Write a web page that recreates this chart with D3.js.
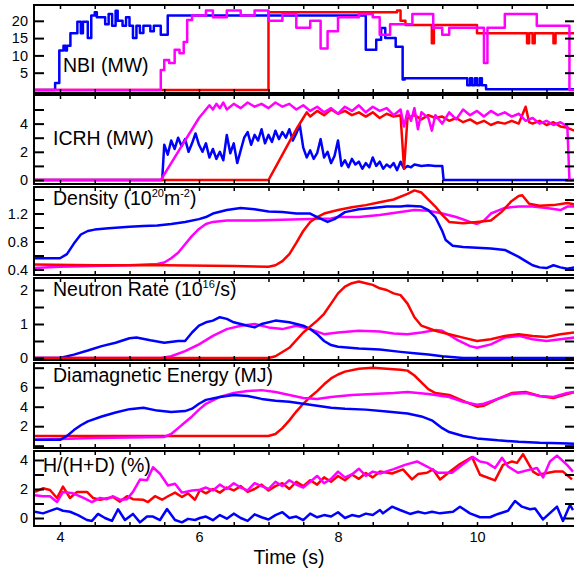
<!DOCTYPE html>
<html>
<head>
<meta charset="utf-8">
<script src="https://cdn.jsdelivr.net/npm/d3@7"></script>
<style>
  body { margin: 0; background: #fff; }
  svg { display: block; }
  text { font-family: "Liberation Sans", Arial, sans-serif; fill: #000; }
</style>
</head>
<body>
<div id="chart"></div>
<script>
// ---- data: [time (s), value] pairs ----
var nbiBlue = [[3.6,0],[3.93,2],[3.99,11.4],[4.05,12.8],[4.08,11.4],[4.1,12.8],[4.15,16.4],[4.25,19.7],[4.3,16.4],[4.33,19.7],
    [4.4,15],[4.45,21.5],[4.5,22.5],[4.53,21],[4.65,19],[4.7,22],[4.75,18.6],[4.8,22.9],[4.83,20],[4.9,18.6],[4.95,21],
    [5.0,18.6],[5.05,15],[5.1,18.6],[5.15,16.5],[5.2,18.6],[5.3,17],[5.35,18.6],[5.45,16],[5.55,21.5],[8.4,11.6],
    [8.55,14.5],[8.62,17.9],[8.68,15],[8.83,12.5],[8.93,3],[8.96,3.4],[9.86,1.4],[9.9,3.4],[9.93,1.4],[9.97,3.4],
    [10.0,1.4],[10.04,3.4],[10.07,1.4],[10.13,0.2],[11.4,0.2]];
var nbiRed = [[3.6,0],[7.0,22.5],[8.85,23],[8.9,20],[8.97,18.8],[9.35,13.5],[9.38,18.8],[10.0,16.4],[10.72,13.5],
    [10.75,16.4],[10.8,13.5],[10.83,16.4],[11.1,13.5],[11.13,16.4],[11.4,16.4]];
var nbiMag = [[3.6,0],[5.45,5.8],[5.5,8.7],[5.57,7.8],[5.65,11.6],[5.72,10.6],[5.78,13.9],[5.83,20.2],[5.9,21.5],
    [6.1,23],[6.2,21],[6.4,23],[6.6,21.5],[6.8,23],[7.0,20],[7.2,22],[7.4,18],[7.6,20],[7.75,12],[7.85,17],
    [8.0,21],[8.3,22],[8.5,21],[8.6,16],[8.75,19],[9.07,22],[9.37,18],[9.5,16],[9.6,18],[10.1,7.8],[10.15,18],
    [10.4,22],[10.86,18.6],[11.33,0],[11.4,0]];

var icrhBlue = [[3.6,0],[5.47,0],[5.5,2.5],[5.55,1.8],[5.6,2.8],[5.65,2.2],[5.7,3.0],[5.75,2.4],[5.8,2.9],[5.85,2.0],
    [5.9,2.6],[5.95,3.3],[6.0,2.5],[6.05,2.0],[6.1,2.6],[6.15,1.6],[6.2,2.2],[6.25,1.5],[6.3,2.0],[6.35,1.4],[6.4,3.2],
    [6.45,1.9],[6.5,2.6],[6.55,1.2],[6.6,2.1],[6.65,3.0],[6.7,3.4],[6.75,2.5],[6.8,3.2],[6.85,2.8],[6.9,3.6],[6.95,2.6],
    [7.0,3.2],[7.05,2.7],[7.1,3.5],[7.15,2.9],[7.2,3.4],[7.25,3.0],[7.3,3.6],[7.35,2.8],[7.4,3.3],[7.45,3.9],[7.5,2.3],
    [7.55,1.6],[7.6,2.1],[7.65,1.5],[7.7,1.9],[7.75,2.9],[7.8,1.6],[7.85,2.0],[7.9,1.2],[7.95,1.7],[8.0,2.8],[8.05,1.0],
    [8.1,1.4],[8.15,0.9],[8.2,1.5],[8.25,1.1],[8.3,1.3],[8.35,0.8],[8.4,1.2],[8.45,0.9],[8.5,1.6],[8.55,1.0],[8.6,1.3],
    [8.65,0.8],[8.7,1.1],[8.75,0.9],[8.8,1.2],[8.85,0.7],[8.9,1.3],[8.95,0.8],[9.0,1.0],[9.05,0.9],[9.1,1.1],[9.2,1.0],
    [9.3,1.05],[9.4,1.0],[9.5,1.0],[9.52,0],[11.4,0]];
var icrhMag = [[3.6,0],[5.45,0],[5.6,1.2],[5.75,2.4],[5.9,3.6],[6.0,4.4],[6.1,5.0],[6.15,5.3],[6.2,5.0],[6.25,5.4],
    [6.3,5.1],[6.35,5.5],[6.4,5.0],[6.5,5.4],[6.6,5.1],[6.7,5.5],[6.8,5.2],[6.9,5.4],[7.0,5.1],[7.1,5.5],[7.2,5.2],
    [7.3,5.4],[7.4,5.0],[7.5,5.3],[7.6,4.9],[7.7,5.2],[7.8,4.8],[7.9,5.1],[8.0,4.7],[8.1,5.2],[8.2,4.9],[8.3,5.3],
    [8.4,4.8],[8.5,5.2],[8.6,4.9],[8.7,5.1],[8.8,4.6],[8.9,5.0],[8.95,3.8],[9.0,4.9],[9.05,4.2],[9.1,5.1],[9.15,3.6],
    [9.2,4.8],[9.3,4.4],[9.35,3.5],[9.4,4.6],[9.5,4.0],[9.6,4.8],[9.7,4.3],[9.8,5.0],[9.9,4.6],[10.0,4.9],[10.1,4.5],
    [10.2,4.9],[10.3,4.6],[10.4,4.8],[10.5,4.5],[10.6,4.7],[10.7,4.2],[10.8,4.4],[10.9,4.0],[11.0,4.2],[11.1,3.9],
    [11.2,4.1],[11.3,3.8],[11.33,0],[11.4,0]];
var icrhRed = [[3.6,0],[7.0,0],[7.1,0.9],[7.2,1.8],[7.3,2.7],[7.4,3.6],[7.5,4.4],[7.55,4.8],[7.6,4.5],[7.7,4.9],
    [7.8,4.6],[7.9,5.0],[8.0,4.7],[8.1,4.9],[8.2,4.6],[8.3,4.8],[8.4,4.5],[8.5,4.8],[8.6,4.4],[8.7,4.7],[8.8,4.5],
    [8.9,4.6],[8.95,0.8],[9.0,4.4],[9.1,4.6],[9.2,4.3],[9.3,4.6],[9.4,4.4],[9.5,4.5],[9.6,4.2],[9.7,4.4],[9.8,4.1],
    [9.9,4.3],[10.0,4.0],[10.1,4.2],[10.2,3.9],[10.3,4.1],[10.4,4.0],[10.5,4.2],[10.6,4.0],[10.7,5.2],[10.75,4.1],
    [10.8,4.0],[10.9,4.2],[11.0,3.9],[11.1,4.1],[11.2,3.8],[11.3,3.7],[11.4,3.5]];

var densBlue = [[3.6,0.56],[3.8,0.56],[4.0,0.56],[4.1,0.62],[4.2,0.77],[4.3,0.9],[4.4,0.95],[4.5,0.97],[4.7,0.99],
    [5.0,1.01],[5.2,1.02],[5.4,1.03],[5.6,1.05],[5.8,1.08],[6.0,1.12],[6.1,1.15],[6.2,1.2],[6.4,1.25],[6.6,1.28],
    [6.8,1.26],[7.0,1.23],[7.2,1.22],[7.4,1.2],[7.6,1.2],[7.7,1.15],[7.85,1.08],[7.95,1.12],[8.1,1.22],[8.3,1.26],
    [8.5,1.28],[8.7,1.3],[8.9,1.3],[9.0,1.31],[9.2,1.3],[9.3,1.25],[9.4,1.15],[9.5,0.95],[9.55,0.82],[9.65,0.74],
    [9.8,0.72],[10.0,0.71],[10.2,0.7],[10.4,0.68],[10.5,0.63],[10.6,0.58],[10.7,0.52],[10.8,0.46],[10.9,0.43],
    [11.0,0.42],[11.1,0.46],[11.2,0.43],[11.3,0.41],[11.4,0.43]];
var densRed = [[3.6,0.47],[4.5,0.46],[5.5,0.46],[6.5,0.45],[7.0,0.44],[7.1,0.46],[7.2,0.52],[7.3,0.62],[7.4,0.78],
    [7.5,0.95],[7.6,1.08],[7.7,1.15],[7.8,1.2],[8.0,1.25],[8.2,1.29],[8.4,1.32],[8.6,1.36],[8.8,1.4],[9.0,1.48],
    [9.1,1.53],[9.2,1.5],[9.3,1.4],[9.4,1.3],[9.5,1.18],[9.6,1.08],[9.8,1.06],[10.0,1.08],[10.2,1.1],[10.35,1.22],
    [10.5,1.38],[10.6,1.45],[10.65,1.46],[10.75,1.34],[10.9,1.31],[11.1,1.32],[11.3,1.35],[11.4,1.33]];
var densMag = [[3.6,0.42],[4.0,0.44],[4.5,0.45],[5.0,0.46],[5.4,0.48],[5.5,0.5],[5.6,0.56],[5.7,0.64],[5.8,0.76],
    [5.9,0.88],[6.0,0.98],[6.1,1.05],[6.2,1.08],[6.4,1.1],[6.8,1.1],[7.2,1.11],[7.6,1.12],[7.9,1.13],[8.0,1.15],
    [8.3,1.15],[8.6,1.18],[8.9,1.22],[9.1,1.25],[9.3,1.24],[9.5,1.2],[9.7,1.15],[9.9,1.08],[10.0,1.05],[10.1,1.1],
    [10.2,1.2],[10.4,1.28],[10.6,1.3],[10.8,1.3],[11.0,1.28],[11.2,1.25],[11.3,1.3],[11.4,1.3]];

var neutBlue = [[3.6,0],[4.0,0],[4.2,0.1],[4.4,0.22],[4.6,0.35],[4.8,0.45],[5.0,0.58],[5.1,0.6],[5.3,0.52],[5.5,0.45],
    [5.7,0.5],[5.8,0.5],[5.9,0.75],[6.0,0.95],[6.1,1.05],[6.2,1.1],[6.3,1.2],[6.4,1.15],[6.5,1.05],[6.6,1.0],
    [6.7,0.95],[6.8,0.9],[6.9,1.0],[7.1,1.1],[7.3,1.05],[7.5,0.95],[7.6,0.85],[7.7,0.7],[7.8,0.5],[7.9,0.38],
    [8.0,0.33],[8.3,0.28],[8.6,0.25],[8.9,0.18],[9.1,0.14],[9.3,0.1],[9.5,0.05],[9.8,0],[11.4,0]];
var neutMag = [[3.6,0],[5.45,0],[5.6,0.05],[5.8,0.2],[6.0,0.4],[6.2,0.65],[6.4,0.85],[6.6,0.95],[6.8,1.0],[7.0,0.9],
    [7.2,0.85],[7.4,0.95],[7.6,0.85],[7.8,0.7],[8.0,0.75],[8.3,0.8],[8.6,0.78],[8.8,0.72],[9.0,0.7],[9.2,0.75],
    [9.4,0.82],[9.5,0.8],[9.7,0.55],[9.9,0.35],[10.0,0.3],[10.2,0.4],[10.4,0.6],[10.6,0.65],[10.8,0.55],[11.0,0.5],
    [11.2,0.55],[11.4,0.6]];
var neutRed = [[3.6,0],[7.0,0],[7.1,0.05],[7.3,0.3],[7.5,0.75],[7.7,1.1],[7.8,1.3],[7.9,1.6],[8.0,1.9],[8.1,2.1],
    [8.2,2.2],[8.3,2.25],[8.4,2.2],[8.5,2.15],[8.6,2.05],[8.7,2.0],[8.8,1.9],[8.9,1.85],[9.0,1.6],[9.1,1.2],[9.2,0.95],
    [9.4,0.8],[9.6,0.7],[9.8,0.6],[10.0,0.5],[10.2,0.55],[10.4,0.65],[10.6,0.7],[10.8,0.65],[11.0,0.62],[11.2,0.7],
    [11.4,0.75]];

var diaBlue = [[3.6,0.6],[4.0,0.6],[4.1,1.0],[4.2,1.6],[4.3,2.1],[4.4,2.5],[4.6,3.0],[4.8,3.4],[5.0,3.75],[5.2,3.9],
    [5.4,3.6],[5.6,3.45],[5.8,3.55],[5.9,3.8],[6.0,4.3],[6.1,4.7],[6.3,5.0],[6.5,5.2],[6.7,5.1],[6.9,4.8],[7.1,4.6],
    [7.3,4.5],[7.5,4.3],[7.7,4.1],[7.9,3.9],[8.1,3.8],[8.4,3.7],[8.7,3.5],[9.0,3.3],[9.2,3.0],[9.35,2.6],[9.5,1.8],
    [9.6,1.4],[9.8,1.0],[10.0,0.75],[10.3,0.55],[10.6,0.4],[10.9,0.3],[11.2,0.25],[11.4,0.2]];
var diaRed = [[3.6,1.0],[5.0,1.0],[6.0,1.0],[7.0,1.0],[7.1,1.2],[7.2,1.8],[7.3,2.6],[7.4,3.5],[7.5,4.3],[7.6,5.0],
    [7.7,5.6],[7.8,6.3],[7.9,6.9],[8.0,7.3],[8.1,7.6],[8.3,7.9],[8.5,8.0],[8.7,7.9],[8.9,7.8],[9.0,7.7],[9.1,7.2],
    [9.2,6.5],[9.3,5.8],[9.4,5.4],[9.6,5.2],[9.8,4.6],[10.0,4.0],[10.1,4.1],[10.3,4.8],[10.5,5.4],[10.7,5.5],
    [10.9,5.1],[11.1,4.9],[11.3,5.3],[11.4,5.5]];
var diaMag = [[3.6,0.6],[4.5,0.8],[5.5,0.9],[5.6,1.2],[5.7,1.8],[5.8,2.4],[5.9,3.0],[6.0,3.7],[6.1,4.3],[6.3,5.0],
    [6.5,5.4],[6.7,5.6],[6.9,5.7],[7.1,5.5],[7.3,5.2],[7.5,4.9],[7.7,4.8],[7.9,5.0],[8.2,5.2],[8.5,5.3],[8.8,5.4],
    [9.0,5.5],[9.3,5.3],[9.6,5.0],[9.8,4.5],[10.0,4.2],[10.1,4.3],[10.3,4.8],[10.5,5.3],[10.7,5.4],[10.9,5.1],
    [11.1,5.0],[11.3,5.4],[11.4,5.5]];

var hdRed = [[3.64,1.8],[3.755,2.05],[3.856,1.93],[3.957,1.38],[4.043,2.16],[4.144,1.38],[4.245,1.8],[4.388,1.8],
    [4.475,1.38],[4.576,1.26],[4.763,1.45],[4.863,1.13],[4.964,1.5],[5.05,1.3],[5.194,1.26],[5.266,1.1],[5.367,1.5],
    [5.468,1.26],[5.554,1.5],[5.655,1.75],[5.755,1.45],[5.842,1.7],[5.942,1.26],[6.014,1.93],[6.1,1.7],[6.2,2.0],
    [6.3,1.75],[6.4,2.1],[6.5,1.9],[6.6,2.2],[6.7,1.8],[6.8,2.0],[6.9,2.3],[7.0,1.9],[7.1,2.2],[7.2,2.4],[7.3,2.0],
    [7.4,2.5],[7.5,2.2],[7.6,2.6],[7.7,2.3],[7.8,2.8],[7.9,2.5],[8.0,2.9],[8.1,2.6],[8.2,3.0],[8.3,2.7],[8.4,3.1],
    [8.5,2.8],[8.604,3.2],[8.777,3.07],[8.935,3.35],[9.065,2.66],[9.151,3.03],[9.281,3.12],[9.367,3.35],[9.468,2.66],
    [9.612,3.2],[9.755,3.72],[9.928,4.2],[10.043,2.98],[10.259,2.59],[10.374,3.66],[10.504,3.9],[10.576,3.8],
    [10.662,4.4],[10.806,3.2],[10.878,2.98],[11.007,3.1],[11.122,3.2],[11.237,3.2],[11.367,2.66]];
var hdMag = [[3.64,1.57],[3.755,1.5],[3.856,1.5],[3.957,1.1],[4.043,1.8],[4.187,1.7],[4.331,1.4],[4.46,1.1],
    [4.576,1.38],[4.676,1.3],[4.763,1.5],[4.863,1.26],[4.964,1.3],[5.05,1.8],[5.151,2.65],[5.252,2.6],[5.338,3.5],
    [5.439,3.05],[5.554,2.24],[5.655,2.36],[5.755,1.75],[5.899,1.9],[6.014,1.95],[6.1,2.1],[6.2,1.9],[6.3,2.3],
    [6.4,2.0],[6.5,2.4],[6.6,2.1],[6.7,1.9],[6.8,2.4],[6.9,2.2],[7.0,2.0],[7.1,2.5],[7.2,2.2],[7.3,2.6],[7.4,2.3],
    [7.5,2.1],[7.6,2.5],[7.7,2.9],[7.8,2.4],[7.9,2.7],[8.0,3.2],[8.1,2.8],[8.2,3.0],[8.3,3.4],[8.4,2.9],[8.5,3.2],
    [8.604,3.07],[8.791,3.35],[8.964,3.66],[9.137,3.9],[9.281,3.55],[9.439,3.12],[9.64,3.12],[9.784,3.66],[9.942,4.2],
    [10.043,3.9],[10.144,3.8],[10.259,3.45],[10.36,4.15],[10.446,3.55],[10.59,3.12],[10.734,3.3],[10.863,3.45],
    [10.95,2.8],[11.05,3.9],[11.151,4.3],[11.295,3.66],[11.381,3.2]];
var hdBlue = [[3.64,0.43],[3.755,0.32],[3.957,0.66],[4.043,0.5],[4.144,0.43],[4.259,0.2],[4.388,-0.14],[4.46,-0.2],
    [4.547,0.28],[4.647,0],[4.748,-0.2],[4.835,0.6],[4.935,-0.14],[5.05,0.28],[5.151,-0.3],[5.252,0.1],[5.338,0.1],
    [5.439,-0.14],[5.54,0.62],[5.655,-0.14],[5.755,-0.3],[5.842,-0.06],[5.942,-0.14],[6.014,0],[6.1,0.1],[6.2,-0.15],
    [6.3,0.2],[6.4,-0.05],[6.5,0.3],[6.6,0.0],[6.7,-0.2],[6.8,0.25],[6.9,0.05],[7.0,-0.1],[7.1,0.2],[7.2,0.4],
    [7.3,0.0],[7.4,0.1],[7.5,-0.15],[7.6,0.3],[7.7,0.05],[7.8,0.2],[7.9,0.1],[8.0,0.4],[8.1,0.0],[8.2,0.2],[8.3,0.1],
    [8.4,0.3],[8.5,0.2],[8.604,0.55],[8.647,0.32],[8.777,0.78],[8.892,0.55],[9.036,0.28],[9.151,0.43],[9.252,0.32],
    [9.353,0.43],[9.468,0.32],[9.655,0.43],[9.755,0.78],[9.899,0.32],[10.043,0.05],[10.187,0.05],[10.302,0.28],
    [10.446,0.5],[10.547,1.17],[10.647,0.78],[10.763,0.6],[10.835,0.66],[10.95,-0.1],[11.151,0.78],[11.237,-0.2],
    [11.338,0.9],[11.381,0.55]];

var timeTicks = [4, 6, 8, 10];

// ---- layout ----
var width = 574, height = 575;
var left = 34, right = 575;
var blue = "#0000ff", red = "#ff0000", magenta = "#ff00ff";

var panels = [
    { top: 5, bottom: 93, domain: [-0.87, 24.57], ticks: [5, 10, 15, 20], labels: [5, 10, 15, 20],
      title: ["NBI (MW)"], tx: 63, ty: 72, step: true,
      series: [[nbiBlue, blue], [nbiRed, red], [nbiMag, magenta]] },
    { top: 95, bottom: 184, domain: [-0.284, 6.03], ticks: [0, 1, 2, 3, 4, 5], labels: [0, 2, 4],
      title: ["ICRH (MW)"], tx: 53, ty: 145,
      series: [[icrhBlue, blue], [icrhRed, red], [icrhMag, magenta]] },
    { top: 187, bottom: 275, domain: [0.321, 1.579], ticks: [0.4, 0.6, 0.8, 1.0, 1.2, 1.4], labels: [0.4, 0.8, 1.2],
      title: ["Density (10", "20", "m", "-2", ")"], tx: 53, ty: 205,
      series: [[densMag, magenta], [densRed, red], [densBlue, blue]] },
    { top: 278, bottom: 360, domain: [-0.059, 2.353], ticks: [0, 0.5, 1, 1.5, 2], labels: [0, 1, 2],
      title: ["Neutron Rate (10", "16", "/s)"], tx: 53, ty: 296,
      series: [[neutMag, magenta], [neutBlue, blue], [neutRed, red]] },
    { top: 363, bottom: 448, domain: [-0.236, 8.482], ticks: [0, 2, 4, 6, 8], labels: [2, 4, 6],
      title: ["Diamagnetic Energy (MJ)"], tx: 53, ty: 382,
      series: [[diaRed, red], [diaMag, magenta], [diaBlue, blue]] },
    { top: 451, bottom: 526, domain: [-0.552, 4.62], ticks: [0, 1, 2, 3, 4], labels: [0, 2, 4],
      title: ["H/(H+D) (%)"], tx: 43, ty: 472,
      series: [[hdBlue, blue], [hdRed, red], [hdMag, magenta]] }
];

var x = d3.scaleLinear().domain([3.626, 11.41]).range([left, right]);
var minorTime = d3.range(4, 11.5, 0.5);

var svg = d3.select("#chart").append("svg")
    .attr("width", width)
    .attr("height", height);

panels.forEach(function(p, i) {
    var y = d3.scaleLinear().domain(p.domain).range([p.bottom, p.top]);
    var g = svg.append("g").attr("class", "panel");

    var clipId = "clip" + i;
    svg.append("clipPath").attr("id", clipId)
        .append("rect")
        .attr("x", left).attr("y", p.top)
        .attr("width", right - left).attr("height", p.bottom - p.top);

    var line = d3.line()
        .x(function(d) { return x(d[0]); })
        .y(function(d) { return y(d[1]); })
        .curve(p.step ? d3.curveStepAfter : d3.curveLinear);

    var traces = g.append("g").attr("clip-path", "url(#" + clipId + ")");
    p.series.forEach(function(s) {
        traces.append("path")
            .datum(s[0])
            .attr("d", line)
            .attr("fill", "none")
            .attr("stroke", s[1])
            .attr("stroke-width", 2.5)
            .attr("stroke-linejoin", "round");
    });

    // left axis, ticks pointing inward
    var yAxis = d3.axisLeft(y)
        .tickValues(p.ticks)
        .tickSizeInner(-10)
        .tickSizeOuter(0)
        .tickPadding(6)
        .tickFormat(function(d) {
            if (p.labels.indexOf(d) < 0) return "";
            return i === 2 ? d3.format(".1f")(d) : d;
        });
    g.append("g")
        .attr("transform", "translate(" + left + ",0)")
        .call(yAxis)
        .call(function(a) {
            a.select(".domain").remove();
            a.selectAll("line").attr("stroke-width", 2);
            a.selectAll("text").style("font-size", "14.5px")
                .style("font-family", "'Liberation Sans', Arial, sans-serif");
        });

    // right mirror ticks
    g.append("g")
        .attr("transform", "translate(" + right + ",0)")
        .call(d3.axisRight(y).tickValues(p.ticks).tickSizeInner(-10).tickSizeOuter(0).tickFormat(""))
        .call(function(a) {
            a.select(".domain").remove();
            a.selectAll("line").attr("stroke-width", 2);
        });

    // top and bottom time ticks
    g.append("g")
        .attr("transform", "translate(0," + p.top + ")")
        .call(d3.axisTop(x).tickValues(minorTime).tickSizeInner(-4).tickSizeOuter(0).tickFormat(""))
        .call(function(a) { a.select(".domain").remove(); a.selectAll("line").attr("stroke-width", 1.5); });
    g.append("g")
        .attr("transform", "translate(0," + p.bottom + ")")
        .call(d3.axisBottom(x).tickValues(minorTime).tickSizeInner(-4).tickSizeOuter(0).tickFormat(""))
        .call(function(a) { a.select(".domain").remove(); a.selectAll("line").attr("stroke-width", 1.5); });

    // frame
    g.append("rect")
        .attr("x", left).attr("y", p.top)
        .attr("width", right - left).attr("height", p.bottom - p.top)
        .attr("fill", "none")
        .attr("stroke", "#000")
        .attr("stroke-width", 2);

    // panel title, with superscripts on alternate pieces
    var t = g.append("text")
        .attr("x", p.tx).attr("y", p.ty)
        .style("font-size", "19.5px");
    p.title.forEach(function(piece, k) {
        var ts = t.append("tspan").text(piece);
        if (k % 2 === 1) {
            ts.style("font-size", "11px").attr("dy", -8);
        } else if (k > 0) {
            ts.attr("dy", 8);
        }
    });

    if (i === panels.length - 1) {
        g.append("g")
            .attr("transform", "translate(0," + p.bottom + ")")
            .call(d3.axisBottom(x).tickValues(timeTicks).tickSize(0).tickPadding(6))
            .call(function(a) {
                a.select(".domain").remove();
                a.selectAll("text").style("font-size", "14.5px")
                    .style("font-family", "'Liberation Sans', Arial, sans-serif");
            });
    }
});

svg.append("text")
    .attr("x", 289)
    .attr("y", 564)
    .attr("text-anchor", "middle")
    .style("font-size", "19.5px")
    .text("Time (s)");
</script>
</body>
</html>
